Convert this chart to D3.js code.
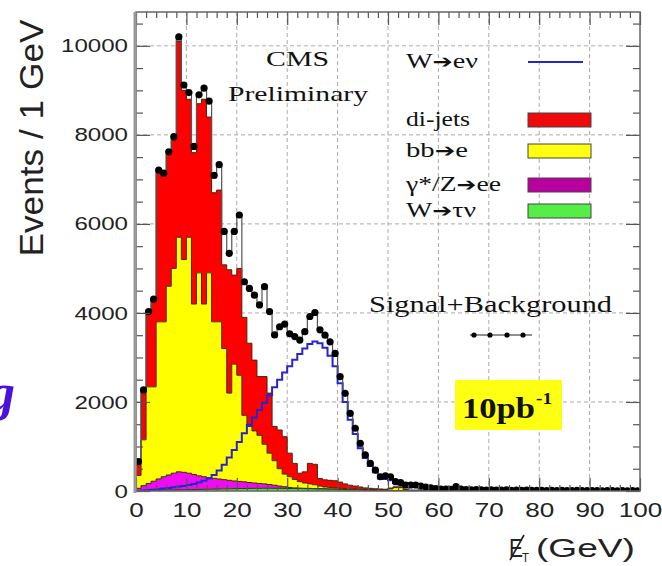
<!DOCTYPE html>
<html lang="en">
	<head>
		<meta charset="utf-8">
		<title>Missing ET - W to e nu</title>
		<style>
			body { margin: 0; background: #fff; }
			.axis text { font-family: "Liberation Sans", Arial, sans-serif; fill: #222; }
			.axis line { stroke: #555; stroke-width: 1.2; }
			.axis .domain { display: none; }
			.serif { font-family: "Liberation Serif", "Times New Roman", serif; fill: #111; }
			.sans { font-family: "Liberation Sans", Arial, sans-serif; fill: #222; }
			.arrow { font-family: "DejaVu Sans", sans-serif; font-weight: bold; }
		</style>
	</head>
	<body>
		<svg class="chart" width="662" height="566"></svg>
		<script src="https://d3js.org/d3.v7.min.js"></script>
		<script>

			// 1 GeV bins, 0 - 100 GeV
			var nBins = 100;

			// W -> tau nu (green, bottom of the stack)
			var wtn = [
				5,8,10,12,15,18,20,22,25,28,
				30,32,35,38,40,42,45,48,50,52,
				55,55,58,60,60,62,62,60,60,58,
				56,55,54,52,50,48,46,44,42,40,
				36,32,28,24,20,17,14,12,10,8,
				7,6,5,5,4,4,3,3,3,2,
				2,2,1,1,1,1,1,1,1,1,
				1,1,1,1,0,0,0,0,0,0,
				0,0,0,0,0,0,0,0,0,0,
				0,0,0,0,0,0,0,0,0,0
			];

			// gamma*/Z -> ee (magenta)
			var zee = [
				55,112,160,208,255,302,340,378,405,392,
				370,338,305,282,260,243,225,207,190,173,
				160,150,132,120,110,98,83,70,50,37,
				24,15,11,8,8,7,6,6,5,4,
				4,3,2,2,2,1,1,1,1,1,
				0,0,0,0,0,0,0,0,0,0,
				0,0,0,0,0,0,0,0,0,0,
				0,0,0,0,0,0,0,0,0,0,
				0,0,0,0,0,0,0,0,0,0,
				0,0,0,0,0,0,0,0,0,0
			];

			// bb -> e (yellow)
			var bbe = [
				290,1030,2170,2120,3530,3480,4240,4600,5270,4780,
				5300,3830,4560,3880,4600,3515,3530,2945,1960,2625,
				2385,1495,1260,1170,1080,890,705,550,390,285,
				240,190,145,120,102,85,58,40,33,26,
				20,20,20,19,18,17,15,12,9,9,
				40,70,70,20,4,4,3,3,2,3,
				2,2,2,2,1,1,1,1,1,1,
				1,1,1,0,0,0,0,0,0,0,
				0,0,0,0,0,0,0,0,0,0,
				0,0,0,0,0,0,0,0,0,0
			];

			// di-jets (red, top of the stack)
			var dijets = [
				270,1100,1660,1940,3370,3280,2970,2890,4400,3800,
				3100,3400,3800,4600,3500,2900,2960,1880,2770,2000,
				2400,2200,1870,1590,1320,1520,1350,770,870,840,
				530,360,190,250,460,460,170,160,160,160,
				140,105,80,65,50,35,30,25,25,22,
				20,18,18,15,14,12,12,10,9,7,
				6,5,5,4,4,3,3,3,2,2,
				2,2,1,1,1,1,1,1,0,0,
				0,0,0,0,0,0,0,0,0,0,
				0,0,0,0,0,0,0,0,0,0
			];

			// W -> e nu signal (blue outline)
			var signal = [
				0,10,20,30,40,55,70,85,100,115,
				135,160,190,230,280,360,460,590,750,920,
				1100,1300,1480,1650,1820,1980,2150,2330,2500,2660,
				2800,2950,3080,3200,3300,3360,3320,3220,3040,2800,
				2420,2000,1600,1280,960,740,560,420,280,270,
				240,180,150,110,100,100,80,65,50,40,
				32,26,22,18,16,14,12,11,10,9,
				8,8,7,7,6,6,5,5,5,4,
				4,4,3,3,3,3,2,2,2,2,
				2,2,2,1,1,1,1,1,1,1
			];

			// signal + background pseudo-data (black dots)
			var total = [
				660,2270,4030,4310,7210,7140,7620,7960,10200,9120,
				8950,7740,8900,9050,8760,7090,7330,5830,5340,5830,
				6200,4700,4550,4400,4180,4590,4030,3505,3690,3750,
				3530,3470,3390,3580,3920,4010,3620,3500,3350,3090,
				2570,2195,1745,1410,1070,810,620,470,320,340,
				320,210,190,135,135,135,110,90,70,55,
				45,40,35,100,40,30,25,30,25,20,
				25,20,20,25,15,20,15,20,15,15,
				15,10,15,10,15,10,10,15,10,10,
				10,10,5,10,10,5,10,5,10,5
			];

			var xTicks = [0,10,20,30,40,50,60,70,80,90,100];
			var yTicks = [0,2000,4000,6000,8000,10000];

			var stackKeys = ["wtn","zee","bbe","dijet"];
			var stackColors = { wtn: "#3fe83f", zee: "#f00cf0", bbe: "#ffff00", dijet: "#ff0000" };

			// legend entries split around the decay arrow
			var legendHead = ["di-jets","bb","\u03b3*/Z","W"];
			var legendTail = ["","e","ee","\u03c4\u03bd"];
			var legendColors = ["#ee0a0a","#ffff10","#b8009e","#55ee44"];

			// plot frame (window.top is read-only, so keep these names distinct)
			var fLeft = 136, fRight = 640, fTop = 12, fBottom = 491;

			var x = d3.scaleLinear().domain([0, 100]).range([fLeft, fRight]);
			var y = d3.scaleLinear().domain([0, 10760]).range([fBottom, fTop]);

			var svg = d3.select(".chart");

			svg.append("clipPath").attr("id", "frame")
				.append("rect")
				.attr("x", fLeft).attr("y", fTop)
				.attr("width", fRight - fLeft).attr("height", fBottom - fTop);

			// dotted grid
			var grid = svg.append("g").attr("stroke", "#aaa").attr("stroke-dasharray", "4,3");
			grid.selectAll("line.gx")
				.data(xTicks.slice(1, -1))
				.enter().append("line")
				.attr("x1", x).attr("x2", x)
				.attr("y1", fTop).attr("y2", fBottom);
			grid.selectAll("line.gy")
				.data(yTicks.slice(1))
				.enter().append("line")
				.attr("x1", fLeft).attr("x2", fRight)
				.attr("y1", y).attr("y2", y);

			var plot = svg.append("g").attr("clip-path", "url(#frame)");

			// stacked backgrounds
			var rows = d3.range(nBins).map(function(i) {
				return { bin: i, wtn: wtn[i], zee: zee[i], bbe: bbe[i], dijet: dijets[i] };
			});
			var layers = d3.stack().keys(stackKeys)(rows);

			var area = d3.area()
				.curve(d3.curveStepAfter)
				.x(function(d) { return x(d.x); })
				.y0(function(d) { return y(d.y0); })
				.y1(function(d) { return y(d.y1); });

			var topLine = d3.line()
				.curve(d3.curveStepAfter)
				.x(function(d) { return x(d.x); })
				.y(function(d) { return y(d.y1); });

			// draw the top layer first so the lower ones sit over its outline
			layers.slice().reverse().forEach(function(layer) {
				var pts = layer.map(function(d, i) { return { x: i, y0: d[0], y1: d[1] }; });
				pts.push({ x: nBins, y0: pts[nBins - 1].y0, y1: pts[nBins - 1].y1 });
				plot.append("path")
					.attr("d", area(pts))
					.attr("fill", stackColors[layer.key]);
				plot.append("path")
					.attr("d", topLine(pts))
					.attr("fill", "none")
					.attr("stroke", "#3a2a10")
					.attr("stroke-width", 1);
			});

			// signal outline
			var sigPts = signal.map(function(v, i) { return { x: i, y1: v }; });
			sigPts.push({ x: nBins, y1: signal[nBins - 1] });
			plot.append("path")
				.attr("d", topLine(sigPts))
				.attr("fill", "none")
				.attr("stroke", "#2626cc")
				.attr("stroke-width", 2);

			// data: thin step line + dots at bin centres
			var totPts = total.map(function(v, i) { return { x: i, y1: v }; });
			totPts.push({ x: nBins, y1: total[nBins - 1] });
			plot.append("path")
				.attr("d", topLine(totPts))
				.attr("fill", "none")
				.attr("stroke", "#555")
				.attr("stroke-width", 1.2);

			plot.selectAll("circle.pt")
				.data(total)
				.enter().append("circle")
				.attr("cx", function(d, i) { return x(i + 0.5); })
				.attr("cy", function(d) { return y(d); })
				.attr("r", 3.6)
				.attr("fill", "#000");

			// axes, ticks pointing into the frame on all four sides
			var yMinor = d3.range(500, 10760, 500).filter(function(v) { return v % 2000; });
			var xMinor = d3.range(2, 100, 2).filter(function(v) { return v % 10; });

			var yAxis = svg.append("g").attr("class", "axis")
				.attr("transform", "translate(" + fLeft + ",0)")
				.call(d3.axisLeft(y).tickValues(yTicks).tickFormat(d3.format("d"))
					.tickSizeInner(-14).tickSizeOuter(0).tickPadding(8));
			yAxis.selectAll("text")
				.attr("font-size", 19)
				.attr("textLength", function(d) { return 13.4 * String(d).length; })
				.attr("lengthAdjust", "spacingAndGlyphs");
			svg.append("g").attr("class", "axis")
				.attr("transform", "translate(" + fLeft + ",0)")
				.call(d3.axisLeft(y).tickValues(yMinor).tickSizeInner(-7).tickSizeOuter(0).tickFormat(""));
			svg.append("g").attr("class", "axis")
				.attr("transform", "translate(" + fRight + ",0)")
				.call(d3.axisRight(y).tickValues(yTicks).tickSizeInner(-14).tickSizeOuter(0).tickFormat(""));
			svg.append("g").attr("class", "axis")
				.attr("transform", "translate(" + fRight + ",0)")
				.call(d3.axisRight(y).tickValues(yMinor).tickSizeInner(-7).tickSizeOuter(0).tickFormat(""));

			var xAxis = svg.append("g").attr("class", "axis")
				.attr("transform", "translate(0," + fBottom + ")")
				.call(d3.axisBottom(x).tickValues(xTicks).tickSizeInner(-13).tickSizeOuter(0).tickPadding(11));
			xAxis.selectAll("text")
				.attr("font-size", 21)
				.attr("textLength", function(d) { return 14.5 * String(d).length; })
				.attr("lengthAdjust", "spacingAndGlyphs");
			svg.append("g").attr("class", "axis")
				.attr("transform", "translate(0," + fBottom + ")")
				.call(d3.axisBottom(x).tickValues(xMinor).tickSizeInner(-6).tickSizeOuter(0).tickFormat(""));
			svg.append("g").attr("class", "axis")
				.attr("transform", "translate(0," + fTop + ")")
				.call(d3.axisTop(x).tickValues(xTicks).tickSizeInner(-13).tickSizeOuter(0).tickFormat(""));
			svg.append("g").attr("class", "axis")
				.attr("transform", "translate(0," + fTop + ")")
				.call(d3.axisTop(x).tickValues(xMinor).tickSizeInner(-6).tickSizeOuter(0).tickFormat(""));

			// frame
			svg.append("rect")
				.attr("x", fLeft).attr("y", fTop)
				.attr("width", fRight - fLeft).attr("height", fBottom - fTop)
				.attr("fill", "none").attr("stroke", "#666").attr("stroke-width", 1.5);
			svg.append("line")
				.attr("x1", fLeft - 1).attr("x2", fLeft - 1)
				.attr("y1", fTop).attr("y2", fBottom + 2)
				.attr("stroke", "#999").attr("stroke-width", 3);

			// axis titles
			svg.append("text").attr("class", "sans")
				.attr("transform", "translate(43,138) rotate(-90)")
				.attr("text-anchor", "middle")
				.attr("font-size", 33)
				.attr("textLength", 237).attr("lengthAdjust", "spacingAndGlyphs")
				.text("Events / 1 GeV");

			svg.append("text").attr("class", "sans")
				.attr("x", 509).attr("y", 557).attr("font-size", 25)
				.attr("textLength", 14).attr("lengthAdjust", "spacingAndGlyphs")
				.text("E");
			svg.append("line")
				.attr("x1", 510).attr("y1", 560).attr("x2", 524).attr("y2", 535)
				.attr("stroke", "#222").attr("stroke-width", 1.6);
			svg.append("text").attr("class", "sans")
				.attr("x", 522).attr("y", 562).attr("font-size", 13)
				.attr("textLength", 7).attr("lengthAdjust", "spacingAndGlyphs")
				.text("T");
			svg.append("text").attr("class", "sans")
				.attr("x", 536).attr("y", 557).attr("font-size", 25)
				.attr("textLength", 99).attr("lengthAdjust", "spacingAndGlyphs")
				.text("(GeV)");

			// CMS label
			svg.append("text").attr("class", "serif")
				.attr("x", 266).attr("y", 66).attr("font-size", 22)
				.attr("textLength", 63).attr("lengthAdjust", "spacingAndGlyphs")
				.text("CMS");
			svg.append("text").attr("class", "serif")
				.attr("x", 228).attr("y", 101).attr("font-size", 22)
				.attr("textLength", 140).attr("lengthAdjust", "spacingAndGlyphs")
				.text("Preliminary");

			// legend
			var sig = svg.append("text").attr("class", "serif")
				.attr("x", 406).attr("y", 68).attr("font-size", 21)
				.attr("textLength", 72).attr("lengthAdjust", "spacingAndGlyphs");
			sig.append("tspan").text("W");
			sig.append("tspan").attr("class", "arrow").attr("font-size", 18).text("\u2794");
			sig.append("tspan").text("e\u03bd");
			svg.append("line")
				.attr("x1", 528).attr("x2", 583).attr("y1", 62).attr("y2", 62)
				.attr("stroke", "#2626cc").attr("stroke-width", 2);

			var legendY = [113, 144, 178, 204];
			var legendW = [64, 62, 95, 70];
			var leg = svg.selectAll("g.leg")
				.data(legendHead)
				.enter().append("g")
				.attr("transform", function(d, i) { return "translate(0," + legendY[i] + ")"; });
			leg.append("rect")
				.attr("x", 528).attr("y", 0)
				.attr("width", 63).attr("height", 14)
				.attr("fill", function(d, i) { return legendColors[i]; })
				.attr("stroke", "#444").attr("stroke-width", 1);
			var legText = leg.append("text").attr("class", "serif")
				.attr("x", 406).attr("y", 13).attr("font-size", 21)
				.attr("textLength", function(d, i) { return legendW[i]; })
				.attr("lengthAdjust", "spacingAndGlyphs");
			legText.append("tspan").text(function(d) { return d; });
			legText.append("tspan").attr("class", "arrow").attr("font-size", 18)
				.text(function(d, i) { return legendTail[i] ? "\u2794" : ""; });
			legText.append("tspan").text(function(d, i) { return legendTail[i]; });

			svg.append("text").attr("class", "serif")
				.attr("x", 369).attr("y", 312).attr("font-size", 24)
				.attr("textLength", 243).attr("lengthAdjust", "spacingAndGlyphs")
				.text("Signal+Background");
			svg.append("line")
				.attr("x1", 470).attr("x2", 532).attr("y1", 335).attr("y2", 335)
				.attr("stroke", "#222").attr("stroke-width", 1.2);
			svg.selectAll("circle.leg")
				.data([474, 490, 507, 523])
				.enter().append("circle")
				.attr("cx", function(d) { return d; }).attr("cy", 335)
				.attr("r", 2.6).attr("fill", "#000");

			// luminosity box
			svg.append("rect")
				.attr("x", 455).attr("y", 380).attr("width", 107).attr("height", 50)
				.attr("fill", "#ffff14");
			svg.append("text").attr("class", "serif")
				.attr("x", 462).attr("y", 418).attr("font-size", 30).attr("font-weight", "bold")
				.attr("textLength", 73).attr("lengthAdjust", "spacingAndGlyphs")
				.text("10pb");
			svg.append("text").attr("class", "serif")
				.attr("x", 536).attr("y", 404).attr("font-size", 17).attr("font-weight", "bold")
				.attr("textLength", 16).attr("lengthAdjust", "spacingAndGlyphs")
				.text("-1");

			// stray glyph cut from the neighbouring slide
			svg.append("text")
				.attr("x", -11).attr("y", 410)
				.attr("font-family", "Liberation Serif, serif")
				.attr("font-style", "italic").attr("font-weight", "bold").attr("font-size", 52)
				.attr("fill", "#4a12d8")
				.text("g");

		</script>
	</body>
</html>
